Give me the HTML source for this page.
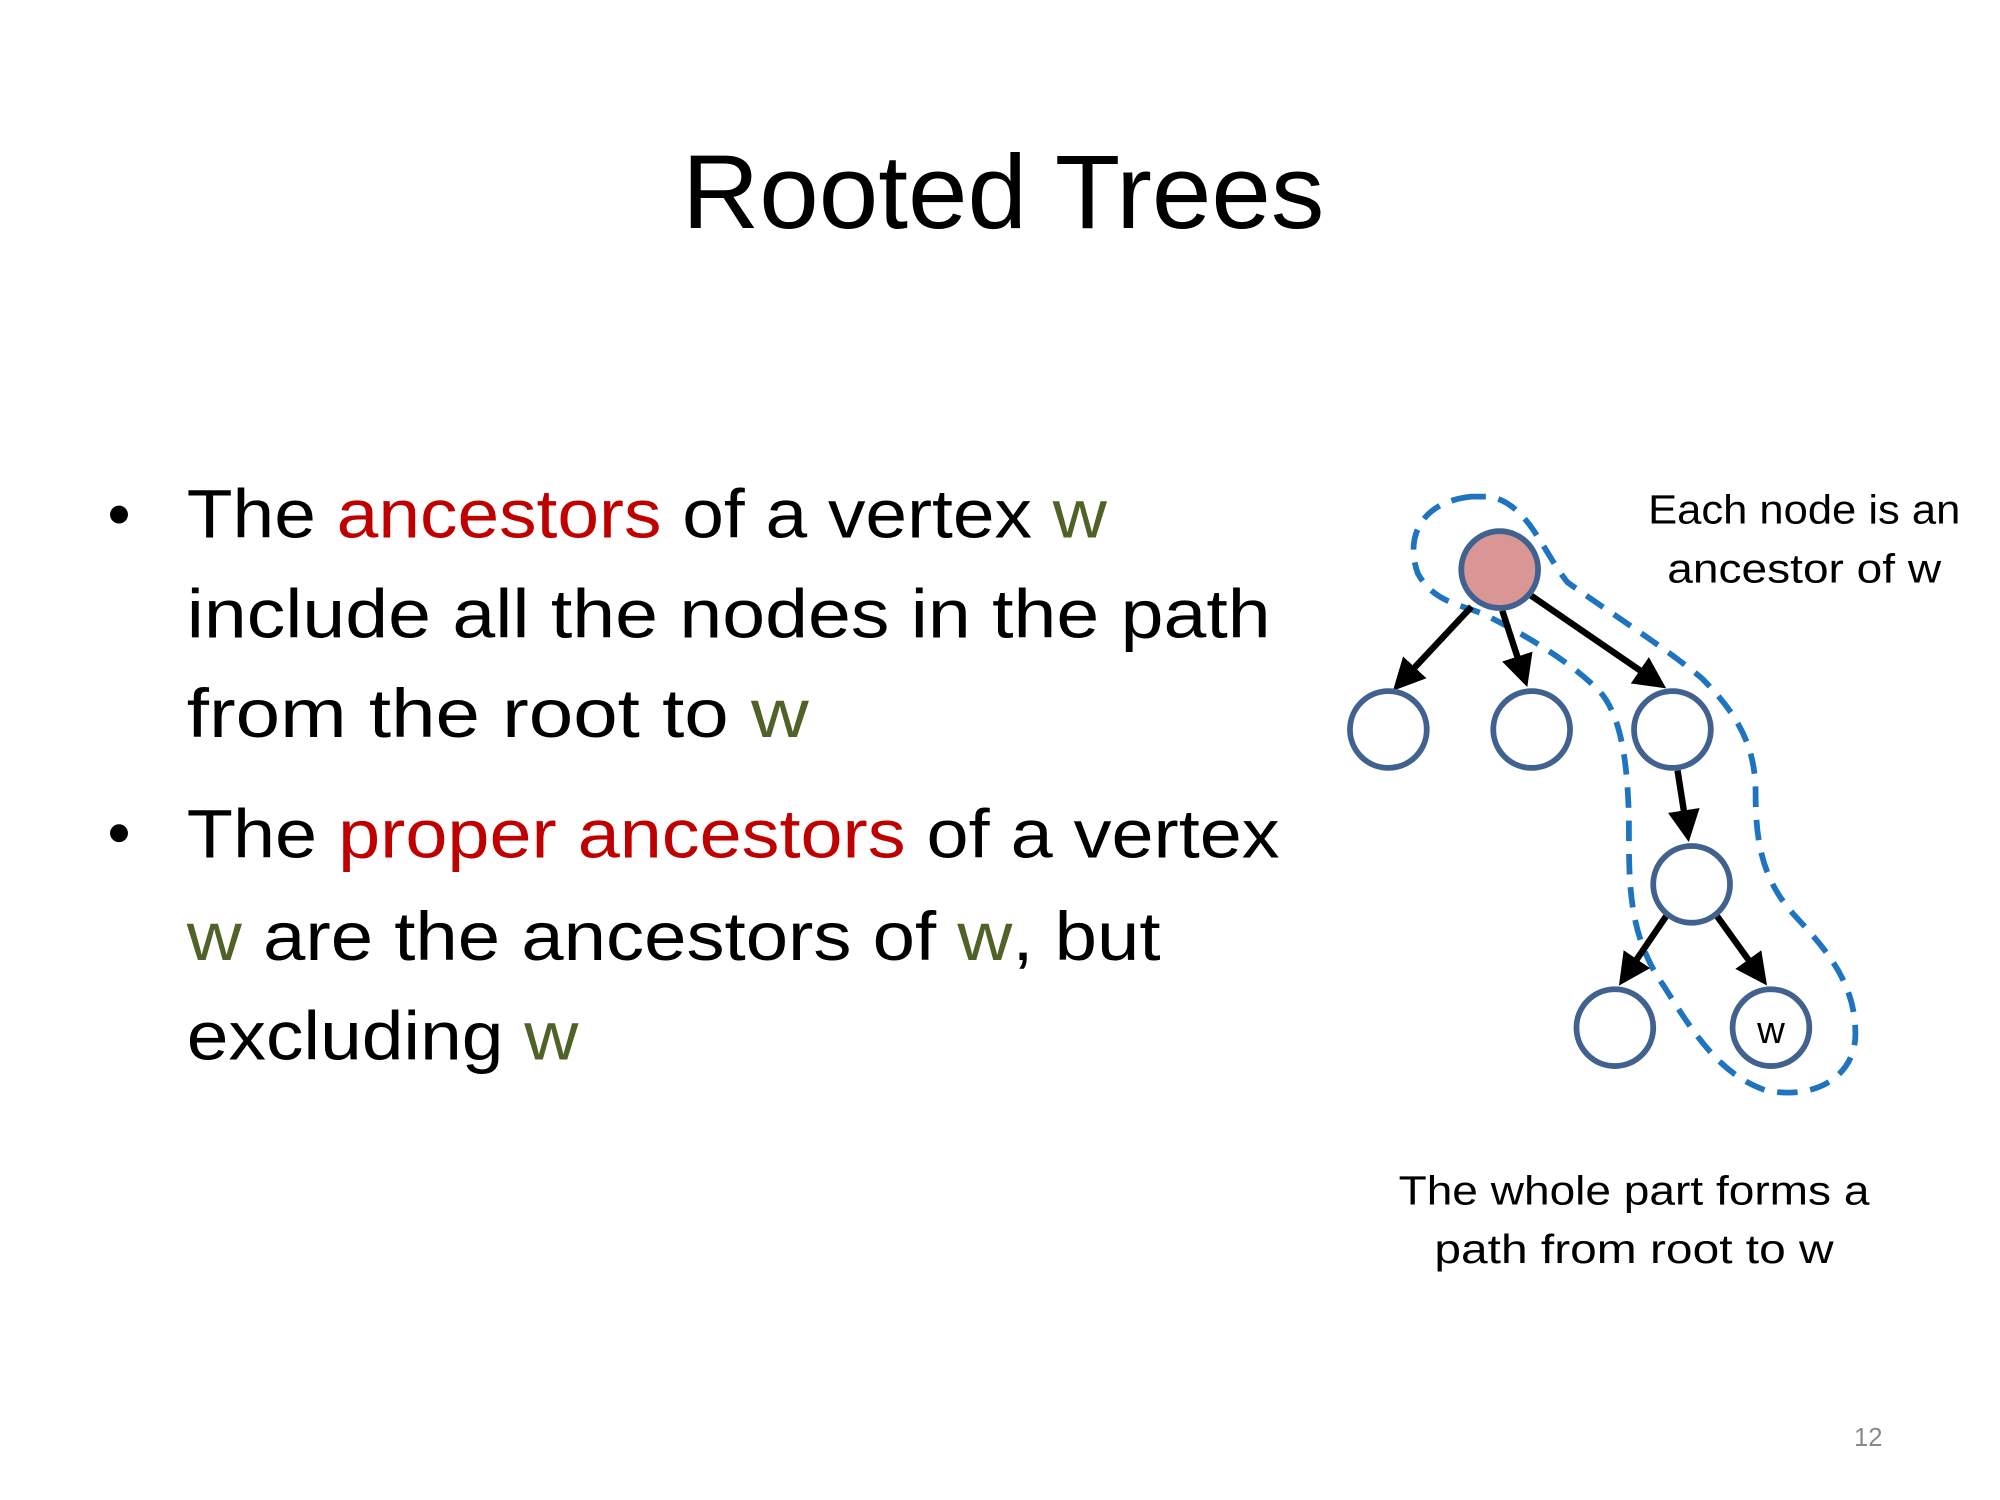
<!DOCTYPE html>
<html><head><meta charset="utf-8"><style>
html,body{margin:0;padding:0;background:#fff;}
svg{display:block;}
text{font-family:"Liberation Sans",sans-serif;}
</style></head><body>
<svg width="2000" height="1500" viewBox="0 0 1563 1172" xmlns="http://www.w3.org/2000/svg">
<defs>
<marker id="ah" markerWidth="5" markerHeight="5" refX="4" refY="2.5" orient="auto" markerUnits="strokeWidth">
<path d="M0,0 L5,2.5 L0,5 z" fill="#000"/>
</marker>
</defs>
<text x="784" y="178" font-size="82" text-anchor="middle" textLength="502" lengthAdjust="spacingAndGlyphs">Rooted Trees</text>
<g font-size="54">
<circle cx="93" cy="402" r="7" fill="#000"/>
<text x="146" y="420" textLength="719" lengthAdjust="spacingAndGlyphs">The <tspan fill="#c00000">ancestors</tspan> of a vertex <tspan fill="#4f6228">w</tspan></text>
<text x="146" y="498" textLength="847" lengthAdjust="spacingAndGlyphs">include all the nodes in the path</text>
<text x="146" y="576" textLength="486" lengthAdjust="spacingAndGlyphs">from the root to <tspan fill="#4f6228">w</tspan></text>
<circle cx="93" cy="651" r="7" fill="#000"/>
<text x="146" y="670" textLength="854" lengthAdjust="spacingAndGlyphs">The <tspan fill="#c00000">proper ancestors</tspan> of a vertex</text>
<text x="146" y="750" textLength="761" lengthAdjust="spacingAndGlyphs"><tspan fill="#4f6228">w</tspan> are the ancestors of <tspan fill="#4f6228">w</tspan>, but</text>
<text x="146" y="828" textLength="306" lengthAdjust="spacingAndGlyphs">excluding <tspan fill="#4f6228">w</tspan></text>
</g>
<g font-size="32" text-anchor="middle">
<text x="1410" y="409" textLength="244" lengthAdjust="spacingAndGlyphs">Each node is an</text>
<text x="1410" y="455" textLength="214" lengthAdjust="spacingAndGlyphs">ancestor of w</text>
<text x="1277" y="941" textLength="368" lengthAdjust="spacingAndGlyphs">The whole part forms a</text>
<text x="1277" y="987" textLength="312" lengthAdjust="spacingAndGlyphs">path from root to w</text>
</g>
<text x="1460" y="1130" font-size="20" fill="#8a8a8a" text-anchor="middle">12</text>
<path d="M1150,388 C1110,392 1098,420 1108,448 C1120,470 1140,472 1160,480 C1200,500 1230,520 1250,540 C1268,560 1272,600 1273,640 C1273,690 1272,730 1300,770 C1325,810 1345,840 1380,852 C1420,860 1450,840 1450,808 C1450,770 1430,745 1405,718 C1378,690 1372,660 1372,620 C1372,585 1360,560 1330,530 C1300,505 1260,480 1225,455 C1205,430 1195,395 1165,388 Z" fill="none" stroke="#1f74c0" stroke-width="4.5" stroke-dasharray="16 10"/>
<g stroke="#000" stroke-width="5" marker-end="url(#ah)">
<line x1="1150" y1="474" x2="1092" y2="536"/>
<line x1="1174" y1="477" x2="1192" y2="532"/>
<line x1="1196" y1="465" x2="1298" y2="535"/>
<line x1="1311" y1="602" x2="1319" y2="653"/>
<line x1="1302" y1="716" x2="1268" y2="766"/>
<line x1="1342" y1="716" x2="1378" y2="766"/>
</g>
<g stroke="#41618f" stroke-width="4.5" fill="#fff">
<circle cx="1172" cy="445" r="30" fill="#d99694"/>
<circle cx="1085" cy="570" r="30"/>
<circle cx="1197" cy="570" r="30"/>
<circle cx="1307" cy="570" r="30"/>
<circle cx="1322" cy="691" r="30"/>
<circle cx="1262" cy="803" r="30"/>
<circle cx="1384" cy="803" r="30"/>
</g>
<text x="1384" y="815" font-size="30" text-anchor="middle">w</text>
</svg>
</body></html>
